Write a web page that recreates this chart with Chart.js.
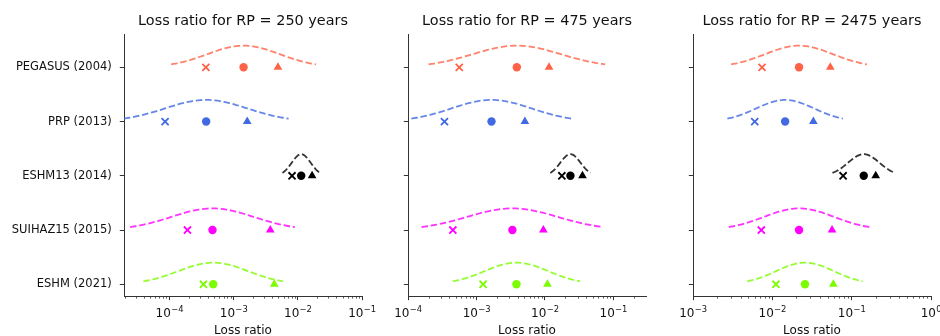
<!DOCTYPE html>
<html><head><meta charset="utf-8">
<script src="https://cdn.jsdelivr.net/npm/chart.js@4"></script>
<style>
html,body{margin:0;padding:0;background:#fff;width:940px;height:336px;overflow:hidden}
canvas{position:absolute;top:0}
</style></head><body>
<canvas id="c0" width="380" height="336" style="left:0px"></canvas>
<canvas id="c1" width="280" height="336" style="left:380px"></canvas>
<canvas id="c2" width="280" height="336" style="left:660px"></canvas>
<script>
// ---------------- data ----------------
const categories = ['PEGASUS (2004)', 'PRP (2013)', 'ESHM13 (2014)', 'SUIHAZ15 (2015)', 'ESHM (2021)'];
const panelTitles = ['Loss ratio for RP = 250 years', 'Loss ratio for RP = 475 years', 'Loss ratio for RP = 2475 years'];
const xAxisLabel = 'Loss ratio';

// central value (circle) per category, per panel
const median250  = [1.43e-3, 3.74e-4, 1.13e-2, 4.69e-4, 4.81e-4];
const median475  = [3.89e-3, 1.66e-3, 2.36e-2, 3.35e-3, 3.84e-3];
const median2475 = [2.17e-2, 1.45e-2, 0.142, 2.17e-2, 2.58e-2];
// spread of the dashed distribution (log10 units)
const sigma250  = [0.564, 0.642, 0.147, 0.642, 0.544];
const sigma475  = [0.645, 0.586, 0.147, 0.664, 0.465];
const sigma2475 = [0.428, 0.364, 0.197, 0.443, 0.364];
// lower value (x marker)
const lower250  = [3.70e-4, 8.57e-5, 8.13e-3, 1.91e-4, 3.39e-4];
const lower475  = [5.61e-4, 3.41e-4, 1.77e-2, 4.52e-4, 1.25e-3];
const lower2475 = [7.41e-3, 6.00e-3, 7.80e-2, 7.26e-3, 1.11e-2];
// upper value (triangle marker)
const upper250  = [4.91e-3, 1.63e-3, 1.67e-2, 3.73e-3, 4.30e-3];
const upper475  = [1.15e-2, 5.10e-3, 3.54e-2, 9.50e-3, 1.09e-2];
const upper2475 = [5.38e-2, 3.29e-2, 0.201, 5.66e-2, 5.87e-2];

const xMin = [1.963e-5, 1e-4, 1e-3];
const xMax = [1e-1, 0.30, 1];
const xMajorTicks = [[1e-4, 1e-3, 1e-2, 1e-1], [1e-4, 1e-3, 1e-2, 1e-1], [1e-3, 1e-2, 1e-1, 1]];
const xTickLabels = [['10^−4', '10^−3', '10^−2', '10^−1'], ['10^−4', '10^−3', '10^−2', '10^−1'], ['10^−3', '10^−2', '10^−1', '10^0']];

// ---------------- styling ----------------
const markerColors = ['#FF6347', '#4169E1', '#000000', '#FF00FF', '#7CFC00'];
const curveColors = ['rgba(255,99,71,0.8)', 'rgba(65,105,225,0.8)', 'rgba(0,0,0,0.8)', 'rgba(255,0,255,0.8)', 'rgba(124,252,0,0.8)'];
const FONT = "'DejaVu Sans', sans-serif";
const AXIS = '#333';
const TEXT = '#111';

const panels = [
  {median: median250, sigma: sigma250, lower: lower250, upper: upper250},
  {median: median475, sigma: sigma475, lower: lower475, upper: upper475},
  {median: median2475, sigma: sigma2475, lower: lower2475, upper: upper2475}
];
const yAxisWidth = [124, 28, 33];
const padRight = [18, 14, 9];

function catY(i) { return categories.length - 1 - i; }

function densityCurve(median, sig, base) {
  const pts = [];
  const n = 60;
  for (let k = 0; k <= n; k++) {
    const z = -2 + 4 * k / n;
    pts.push({x: median * Math.pow(10, z * sig), y: base + Math.exp(-z * z / 2) / Math.sqrt(2 * Math.PI)});
  }
  return pts;
}

function minorTicks(lo, hi) {
  const out = [];
  for (let e = Math.floor(Math.log10(lo)); e <= Math.ceil(Math.log10(hi)); e++) {
    for (let k = 2; k <= 9; k++) {
      const v = k * Math.pow(10, e);
      if (v >= lo && v <= hi) out.push(v);
    }
  }
  return out;
}

// minor tick marks + mathtext-style decade labels on the x axis
const logAxisPlugin = {
  id: 'logAxis',
  afterDraw(chart) {
    const p = chart.options.plugins.logAxis.panel;
    const s = chart.scales.x;
    const ctx = chart.ctx;
    const y0 = chart.chartArea.bottom;
    ctx.save();
    ctx.strokeStyle = AXIS;
    ctx.lineWidth = 0.8;
    s.ticks.forEach(t => {
      if (t.major) return;
      const px = Math.round(s.getPixelForValue(t.value)) + 0.5;
      ctx.beginPath();
      ctx.moveTo(px, y0);
      ctx.lineTo(px, y0 + 2.6);
      ctx.stroke();
    });
    ctx.fillStyle = TEXT;
    ctx.textBaseline = 'alphabetic';
    ctx.textAlign = 'left';
    xMajorTicks[p].forEach((v, k) => {
      const parts = xTickLabels[p][k].split('^');
      const px = s.getPixelForValue(v);
      ctx.font = '12px ' + FONT;
      const wb = ctx.measureText(parts[0]).width;
      ctx.font = '8.4px ' + FONT;
      const we = ctx.measureText(parts[1]).width;
      const x0 = px - (wb + we) / 2;
      ctx.font = '12px ' + FONT;
      ctx.fillText(parts[0], x0, y0 + 21.3);
      ctx.font = '8.4px ' + FONT;
      ctx.fillText(parts[1], x0 + wb + 0.3, y0 + 15.7);
    });
    ctx.restore();
  }
};

panels.forEach((P, p) => {
  const datasets = [];
  categories.forEach((c, i) => {
    const yb = catY(i);
    datasets.push({
      type: 'line', label: c + ' curve',
      data: densityCurve(P.median[i], P.sigma[i], yb),
      borderColor: curveColors[i], borderWidth: 1.8, borderDash: [6.5, 2.8],
      pointRadius: 0, fill: false, tension: 0, order: 2
    });
    datasets.push({
      type: 'scatter', label: c,
      data: [{x: P.lower[i], y: yb}, {x: P.median[i], y: yb}, {x: P.upper[i], y: yb}],
      pointStyle: ['crossRot', 'circle', 'triangle'],
      pointRadius: [5, 4.2, 5],
      pointBorderWidth: [1.8, 0, 0],
      pointBorderColor: markerColors[i],
      pointBackgroundColor: markerColors[i],
      showLine: false, order: 1
    });
  });
  const majors = xMajorTicks[p];
  const minors = minorTicks(xMin[p], xMax[p]);
  new Chart(document.getElementById('c' + p), {
    type: 'scatter',
    data: {datasets},
    plugins: [logAxisPlugin],
    options: {
      responsive: false, animation: false, devicePixelRatio: 1,
      layout: {padding: {left: 0, right: padRight[p], top: 0, bottom: 0}},
      plugins: {
        logAxis: {panel: p},
        legend: {display: false}, tooltip: {enabled: false},
        title: {display: true, text: panelTitles[p], fullSize: false,
          font: {family: FONT, size: 14.4, weight: 'normal', lineHeight: 1.2},
          color: TEXT, padding: {top: 13.06, bottom: 3.66}}
      },
      scales: {
        x: {
          type: 'logarithmic', position: 'bottom', min: xMin[p], max: xMax[p],
          afterBuildTicks: s => {
            s.ticks = majors.map(v => ({value: v, major: true}))
              .concat(minors.map(v => ({value: v, major: false})))
              .sort((a, b) => a.value - b.value);
          },
          ticks: {
            autoSkip: false, maxRotation: 0, minRotation: 0, padding: 5,
            font: {family: FONT, size: 12}, color: TEXT,
            callback: () => ''
          },
          grid: {drawOnChartArea: false, drawTicks: true, tickLength: 4.2,
            tickColor: ctx => (ctx.tick && ctx.tick.major) ? AXIS : 'rgba(0,0,0,0)', tickWidth: 1},
          border: {display: true, color: AXIS, width: 1},
          title: {display: true, text: xAxisLabel, color: TEXT,
            font: {family: FONT, size: 12, lineHeight: 0.8}, padding: {top: 0, bottom: 0}},
          afterFit: s => { s.height = 40; s.paddingLeft = 0; s.paddingRight = 0; }
        },
        y: {
          type: 'linear', position: 'left', min: -0.216, max: 4.614,
          afterBuildTicks: s => { s.ticks = categories.map((c, i) => ({value: catY(i)})).reverse(); },
          ticks: {
            padding: 8, font: {family: FONT, size: 11.5}, color: TEXT,
            callback: v => p === 0 ? categories[categories.length - 1 - v] : ''
          },
          grid: {drawOnChartArea: false, drawTicks: true, tickLength: 4.2, tickColor: AXIS, tickWidth: 1},
          border: {display: true, color: AXIS, width: 1},
          afterFit: s => { s.width = yAxisWidth[p]; s.paddingTop = 0; s.paddingBottom = 0; }
        }
      }
    }
  });
});
</script>
</body></html>
